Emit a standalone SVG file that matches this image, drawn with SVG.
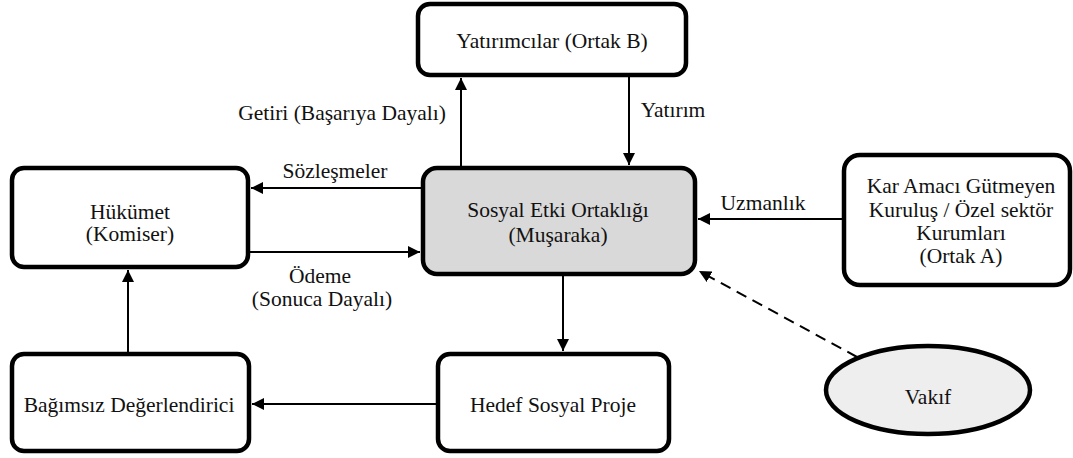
<svg xmlns="http://www.w3.org/2000/svg" width="1073" height="458" viewBox="0 0 1073 458">
<style>
.box{fill:#fff;stroke:#000;stroke-width:4.5}
.gray{fill:#d9d9d9}
text{font-family:"Liberation Serif","DejaVu Serif",serif;font-size:21.5px;fill:#111;text-anchor:middle}
.c{stroke:#000;stroke-width:2;fill:none;marker-end:url(#ah)}
.d{stroke-dasharray:11 7}
</style>
<defs>
<marker id="ah" markerWidth="12" markerHeight="12" refX="10" refY="5" orient="auto" markerUnits="userSpaceOnUse" viewBox="0 0 10 10">
<path d="M0,0 L10,5 L0,10 z" fill="#000"/>
</marker>
</defs>
<g id="connectors">
<line class="c" x1="461" y1="166" x2="461" y2="78"/>
<line class="c" x1="629" y1="77" x2="629" y2="165"/>
<line class="c" x1="423" y1="188" x2="251" y2="188"/>
<line class="c" x1="250" y1="252" x2="420" y2="252"/>
<line class="c" x1="843" y1="219" x2="698" y2="219"/>
<line class="c" x1="563" y1="276" x2="563" y2="351"/>
<line class="c" x1="437" y1="404" x2="252" y2="404"/>
<line class="c" x1="128" y1="354" x2="128" y2="270"/>
<line class="c d" x1="857" y1="357" x2="699" y2="271"/>
<text x="342" y="120">Getiri (Başarıya Dayalı)</text>
<text x="673" y="117">Yatırım</text>
<text x="335" y="178">Sözleşmeler</text>
<text x="320" y="283">Ödeme</text>
<text x="322" y="306">(Sonuca Dayalı)</text>
<text x="763" y="210">Uzmanlık</text>
</g>
<g id="yatirimcilar">
<rect class="box" x="418" y="4" width="268" height="71" rx="12"/>
<text x="552" y="48">Yatırımcılar (Ortak B)</text>
</g>
<g id="ortaklik">
<rect class="box gray" x="423" y="168" width="272" height="106" rx="14"/>
<text x="558" y="217">Sosyal Etki Ortaklığı</text>
<text x="558" y="242">(Muşaraka)</text>
</g>
<g id="hukumet">
<rect class="box" x="12" y="168" width="236" height="99" rx="12"/>
<text x="130" y="219">Hükümet</text>
<text x="130" y="241">(Komiser)</text>
</g>
<g id="ortakA">
<rect class="box" x="844" y="155" width="226" height="130" rx="16"/>
<text x="961" y="193">Kar Amacı Gütmeyen</text>
<text x="961" y="217">Kuruluş / Özel sektör</text>
<text x="961" y="240">Kurumları</text>
<text x="961" y="263">(Ortak A)</text>
</g>
<g id="bagimsiz">
<rect class="box" x="12" y="354" width="237" height="97" rx="12"/>
<text x="129" y="412">Bağımsız Değerlendirici</text>
</g>
<g id="hedef">
<rect class="box" x="438" y="354" width="231" height="97" rx="12"/>
<text x="553" y="412">Hedef Sosyal Proje</text>
</g>
<g id="vakif">
<ellipse cx="928" cy="390" rx="102" ry="44" fill="#eeeeee" stroke="#000" stroke-width="4.5"/>
<text x="928" y="404">Vakıf</text>
</g>
</svg>
